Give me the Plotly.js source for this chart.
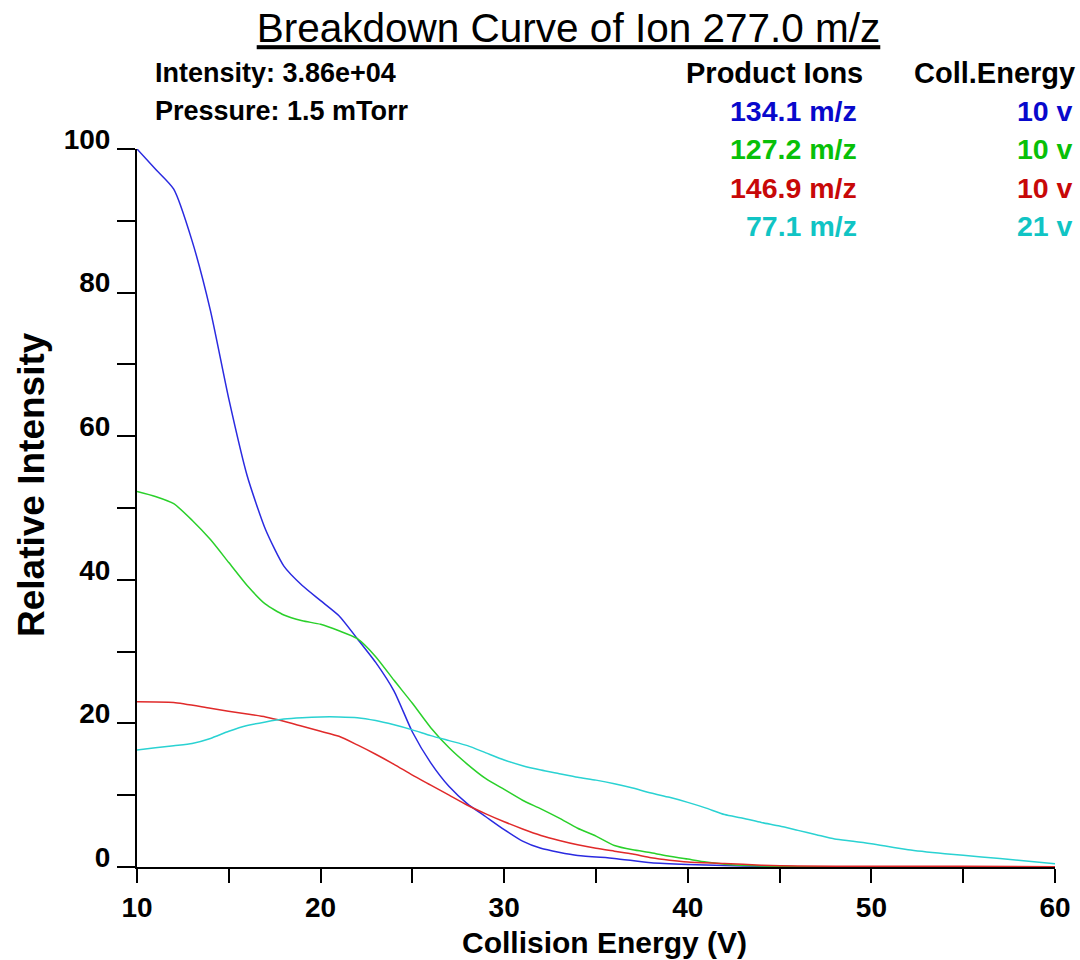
<!DOCTYPE html>
<html>
<head>
<meta charset="utf-8">
<script src="https://cdn.plot.ly/plotly-3.0.1.min.js"></script>
<style>
  html, body { margin: 0; padding: 0; background: #ffffff; }
  #chart { width: 1080px; height: 960px; }
</style>
</head>
<body>
<div id="chart"></div>
<script>
// Breakdown curve of precursor ion 277.0 m/z: relative intensity of each
// product ion versus collision energy.

const precursor = '277.0 m/z';
const intensityText = '3.86e+04';
const pressureText = '1.5 mTorr';

// Product ion labels and their optimum collision energies (V)
const productIons = ['134.1 m/z', '127.2 m/z', '146.9 m/z', '77.1 m/z'];
const collEnergies = [10, 10, 10, 21];

// 134.1 m/z
const ce134 = [10, 11, 12, 13, 14, 15, 16, 17, 18, 19, 20, 21, 22, 23, 24, 25, 26, 27, 28, 29, 30, 31, 32, 34, 36, 38, 40, 42, 44, 46, 48.5];
const ri134 = [100, 97.2, 94.4, 87.2, 77.5, 65.2, 54.5, 47.0, 41.9, 39.2, 37.1, 35.0, 31.8, 28.5, 24.5, 18.8, 14.5, 11.2, 8.8, 7.0, 5.2, 3.6, 2.6, 1.6, 1.2, 0.6, 0.35, 0.2, 0.1, 0.05, 0.0];

// 127.2 m/z
const ce127 = [10, 11, 12, 13, 14, 15, 16, 17, 18, 19, 20, 21, 22, 23, 24, 25, 26, 27, 28, 29, 30, 31, 32, 33, 34, 35, 36, 37, 38, 39, 40, 41, 42, 44, 46, 48, 50, 54.5];
const ri127 = [52.3, 51.6, 50.6, 48.3, 45.6, 42.4, 39.2, 36.6, 35.1, 34.3, 33.8, 32.9, 31.8, 29.3, 26.0, 22.8, 19.4, 16.6, 14.3, 12.3, 10.8, 9.3, 8.1, 6.8, 5.4, 4.3, 3.0, 2.4, 2.0, 1.5, 1.1, 0.7, 0.4, 0.15, 0.05, 0.02, 0.01, 0.0];

// 146.9 m/z
const ce146 = [10, 12, 14, 16, 17, 18, 19, 20, 21, 22, 23, 24, 25, 26, 27, 28, 29, 30, 31, 32, 33, 34, 35, 36, 37, 38, 39, 40, 42, 44, 46, 50, 55, 60];
const ri146 = [23.0, 22.9, 22.1, 21.3, 20.9, 20.3, 19.6, 18.9, 18.2, 17.0, 15.7, 14.3, 12.8, 11.4, 10.0, 8.6, 7.4, 6.3, 5.3, 4.4, 3.7, 3.1, 2.6, 2.2, 1.8, 1.3, 0.95, 0.7, 0.5, 0.25, 0.15, 0.1, 0.1, 0.05];

// 77.1 m/z
const ce77 = [10, 11, 12, 13, 14, 15, 16, 17, 18, 19, 20, 21, 22, 23, 24, 25, 26, 27, 28, 29, 30, 31, 32, 33, 34, 35, 36, 37, 38, 39, 40, 41, 42, 43, 44, 45, 46, 47, 48, 49, 50, 52, 54, 56, 58, 60];
const ri77 = [16.3, 16.6, 16.9, 17.2, 17.9, 18.9, 19.7, 20.2, 20.6, 20.8, 20.9, 20.9, 20.8, 20.4, 19.8, 19.1, 18.3, 17.6, 16.9, 15.9, 14.9, 14.1, 13.5, 13.0, 12.5, 12.1, 11.6, 11.0, 10.3, 9.7, 9.0, 8.2, 7.3, 6.8, 6.2, 5.7, 5.1, 4.5, 3.9, 3.6, 3.25, 2.4, 1.85, 1.4, 0.95, 0.45];

const xTicks = [10, 20, 30, 40, 50, 60];
const yTicks = [0, 20, 40, 60, 80, 100];

// Styling
const lineColors = ['#2a2ae0', '#2ad02a', '#e02a2a', '#2ad2d2'];
const textColors = ['#0808cc', '#08c008', '#c80808', '#10c4c4'];
const FONT = '"Liberation Sans", Arial, sans-serif';

const series = [[ce134, ri134], [ce127, ri127], [ce146, ri146], [ce77, ri77]];
const traces = series.map((s, i) => ({
  type: 'scatter',
  mode: 'lines',
  x: s[0],
  y: s[1],
  name: productIons[i],
  line: { color: lineColors[i], width: 1.5, shape: 'spline', smoothing: 0.6 },
  hoverinfo: 'x+y+name'
}));

// Plot area in pixels (used to place the header text)
const W = 1080, H = 960;
const M = { l: 137, r: 25, t: 149, b: 93 };
const plotW = W - M.l - M.r, plotH = H - M.t - M.b;
const px = x => (x - M.l) / plotW;
const py = y => (H - M.b - y) / plotH;

const annotations = [];
function label(text, x, y, anchor, color, size) {
  annotations.push({
    text: '<b>' + text + '</b>', xref: 'paper', yref: 'paper',
    x: px(x), y: py(y), xanchor: anchor, yanchor: 'middle', showarrow: false,
    font: { family: FONT, size: size || 28, color: color || '#000000' }
  });
}
label('Intensity: ' + intensityText, 153, 73, 'left', '#000000', 27);
label('Pressure: ' + pressureText, 153, 111, 'left', '#000000', 27);
label('Product Ions', 865, 73, 'right', '#000000', 29);
label('Coll.Energy', 1077, 73, 'right', '#000000', 29);
productIons.forEach((ion, i) => {
  const rowY = 111 + i * 38.3;
  label(ion, 859, rowY, 'right', textColors[i], 28.5);
  label(collEnergies[i] + ' v', 1075, rowY, 'right', textColors[i], 28.5);
});
// Axis titles
label('Collision Energy (V)', 604, 942, 'center', '#000000', 30);
annotations.push({
  text: '<b>Relative Intensity</b>', xref: 'paper', yref: 'paper',
  x: px(31), y: py(485), xanchor: 'center', yanchor: 'middle', textangle: -90,
  showarrow: false, font: { family: FONT, size: 37, color: '#000000' }
});

const axisCommon = {
  showgrid: false, zeroline: false, showline: true, linecolor: '#000000', linewidth: 2,
  ticks: 'outside', tickcolor: '#000000', tickwidth: 2, fixedrange: true,
  tickfont: { family: FONT, size: 28, color: '#000000', weight: 'bold' }
};

const layout = {
  width: W, height: H,
  margin: M,
  paper_bgcolor: '#ffffff', plot_bgcolor: '#ffffff',
  showlegend: false,
  font: { family: FONT, color: '#000000' },
  title: {
    text: 'Breakdown Curve of Ion ' + precursor,
    font: { family: FONT, size: 40.5, color: '#000000', lineposition: 'under' },
    xref: 'paper', x: px(568.5), xanchor: 'center',
    yref: 'container', y: 1 - 28 / H, yanchor: 'middle'
  },
  xaxis: Object.assign({}, axisCommon, {
    range: [10, 60], tickvals: xTicks, ticklen: 14,
    minor: { dtick: 5, tick0: 10, ticks: 'outside', ticklen: 14, tickwidth: 2, tickcolor: '#000000' }
  }),
  yaxis: Object.assign({}, axisCommon, {
    range: [0, 100], tickvals: yTicks, ticklen: 18, ticklabelshift: -10, ticklabelstandoff: 1,
    minor: { dtick: 10, tick0: 0, ticks: 'outside', ticklen: 18, tickwidth: 2, tickcolor: '#000000' }
  }),
  annotations: annotations
};

Plotly.newPlot('chart', traces, layout, { displayModeBar: false, staticPlot: true });
</script>
</body>
</html>
